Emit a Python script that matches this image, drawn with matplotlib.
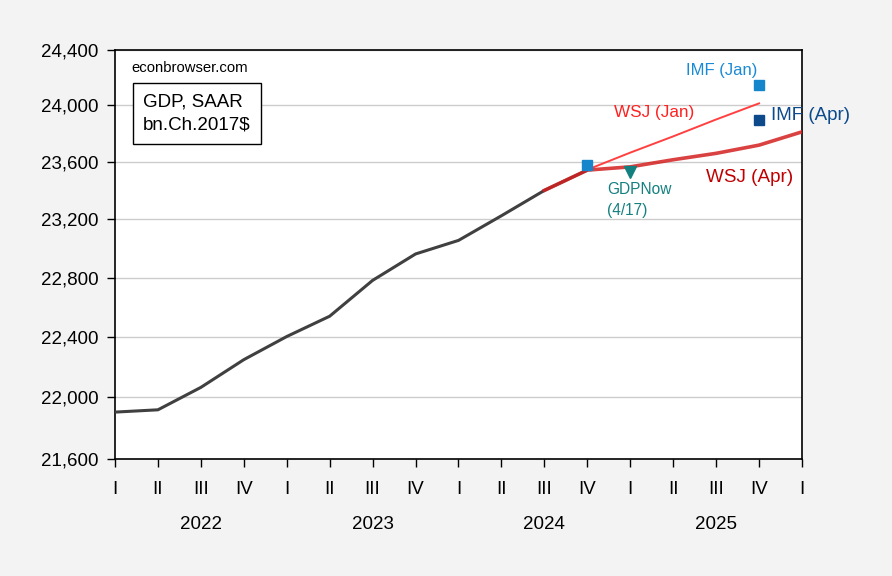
import numpy as np
import matplotlib
matplotlib.use('Agg')
import matplotlib.pyplot as plt
from matplotlib.ticker import FixedLocator, FixedFormatter, NullLocator
from matplotlib.transforms import blended_transform_factory

plt.rcParams['font.family'] = ['Liberation Sans', 'DejaVu Sans']

# quarters on the axis, 2022Q1 .. 2026Q1
quarters = ['2022Q1', '2022Q2', '2022Q3', '2022Q4',
            '2023Q1', '2023Q2', '2023Q3', '2023Q4',
            '2024Q1', '2024Q2', '2024Q3', '2024Q4',
            '2025Q1', '2025Q2', '2025Q3', '2025Q4', '2026Q1']
quarter_labels = ['I', 'II', 'III', 'IV'] * 4 + ['I']
years = ['2022', '2023', '2024', '2025']

# actual GDP, bn. Ch.2017$ SAAR
gdp_q = quarters[:12]
gdp = [21904, 21919, 22066, 22249, 22403, 22539, 22781, 22961,
       23054, 23224, 23400, 23542]

# WSJ surveys
wsj_apr_q = ['2024Q3', '2024Q4', '2025Q1', '2025Q2', '2025Q3', '2025Q4', '2026Q1']
wsj_apr = [23400, 23542, 23565, 23615, 23660, 23718, 23812]
wsj_jan_q = ['2024Q4', '2025Q1', '2025Q2', '2025Q3', '2025Q4']
wsj_jan = [23545, 23665, 23780, 23900, 24015]

# IMF WEO points
imf_jan_q = ['2024Q4', '2025Q4']
imf_jan = [23576, 24147]
imf_apr_q = ['2025Q4']
imf_apr = [23894]

# GDPNow
gdpnow_q = ['2025Q1']
gdpnow = [23531]

yticks = [21600, 22000, 22400, 22800, 23200, 23600, 24000, 24400]


def pos(qs):
    return [quarters.index(q) for q in qs]


fig = plt.figure(figsize=(8.92, 5.76), dpi=100, facecolor='#f3f3f3')
ax = fig.add_axes([115 / 892, 1 - 459 / 576, 687 / 892, 409 / 576])
ax.set_facecolor('white')

ax.plot(pos(gdp_q), gdp, color='#404040', lw=2.2, zorder=3, solid_capstyle='butt')
ax.plot(pos(wsj_jan_q), wsj_jan, color='#ff4040', lw=1.4, zorder=4)
ax.plot(pos(wsj_apr_q), wsj_apr, color='#d42020', alpha=0.85, lw=2.6, zorder=5)
ax.plot(pos(imf_jan_q), imf_jan, ls='none', marker='s', ms=6.5, color='#1585cc', zorder=6)
ax.plot(pos(imf_apr_q), imf_apr, ls='none', marker='s', ms=7.5, color='#0c4a8c', zorder=6)
ax.plot(pos(gdpnow_q), gdpnow, ls='none', marker='v', ms=9, color='#138080', zorder=6)

ax.set_yscale('log')
ax.set_ylim(21600, 24400)
ax.yaxis.set_major_locator(FixedLocator(yticks))
ax.yaxis.set_major_formatter(FixedFormatter([f'{v:,}' for v in yticks]))
ax.yaxis.set_minor_locator(NullLocator())
ax.grid(axis='y', color='#cccccc', lw=1)
ax.set_axisbelow(True)

ax.set_xlim(0, len(quarters) - 1)
ax.set_xticks(range(len(quarters)))
ax.set_xticklabels(quarter_labels)
ax.tick_params(axis='both', direction='out', length=6, width=1, labelsize=13.5, color='black')
ax.tick_params(axis='x', pad=10)
ax.tick_params(axis='y', pad=6)
for s in ax.spines.values():
    s.set_color('black')
    s.set_linewidth(1.2)

trans = blended_transform_factory(ax.transData, ax.transAxes)
for i, y in enumerate(years):
    ax.text(i * 4 + 2, -0.16, y, transform=trans, ha='center', va='center', fontsize=13.5)

# annotations, positions in pixels from the top-left of the figure
labels = [
    (722, 70, 'IMF (Jan)', dict(fontsize=12, color='#1a8ad4', ha='center')),
    (654, 112, 'WSJ (Jan)', dict(fontsize=12.3, color='#ff2020', ha='center')),
    (771, 115, 'IMF (Apr)', dict(fontsize=13.5, color='#0c4a8c', ha='left')),
    (706, 177, 'WSJ (Apr)', dict(fontsize=13.6, color='#c00000', ha='left')),
    (607, 200, 'GDPNow\n(4/17)', dict(fontsize=11.2, color='#168080', ha='left', linespacing=1.45)),
    (131, 68, 'econbrowser.com', dict(fontsize=10.7, ha='left')),
    (143, 113.5, 'GDP, SAAR\nbn.Ch.2017$', dict(fontsize=13.5, ha='left', linespacing=1.45,
                                               bbox=dict(boxstyle='square,pad=0.55', facecolor='white',
                                                         edgecolor='black', lw=1))),
]
for px, py, s, kw in labels:
    fig.text(px / 892, 1 - py / 576, s, va='center', **kw)

fig.savefig('out.png', dpi=100, facecolor=fig.get_facecolor())
